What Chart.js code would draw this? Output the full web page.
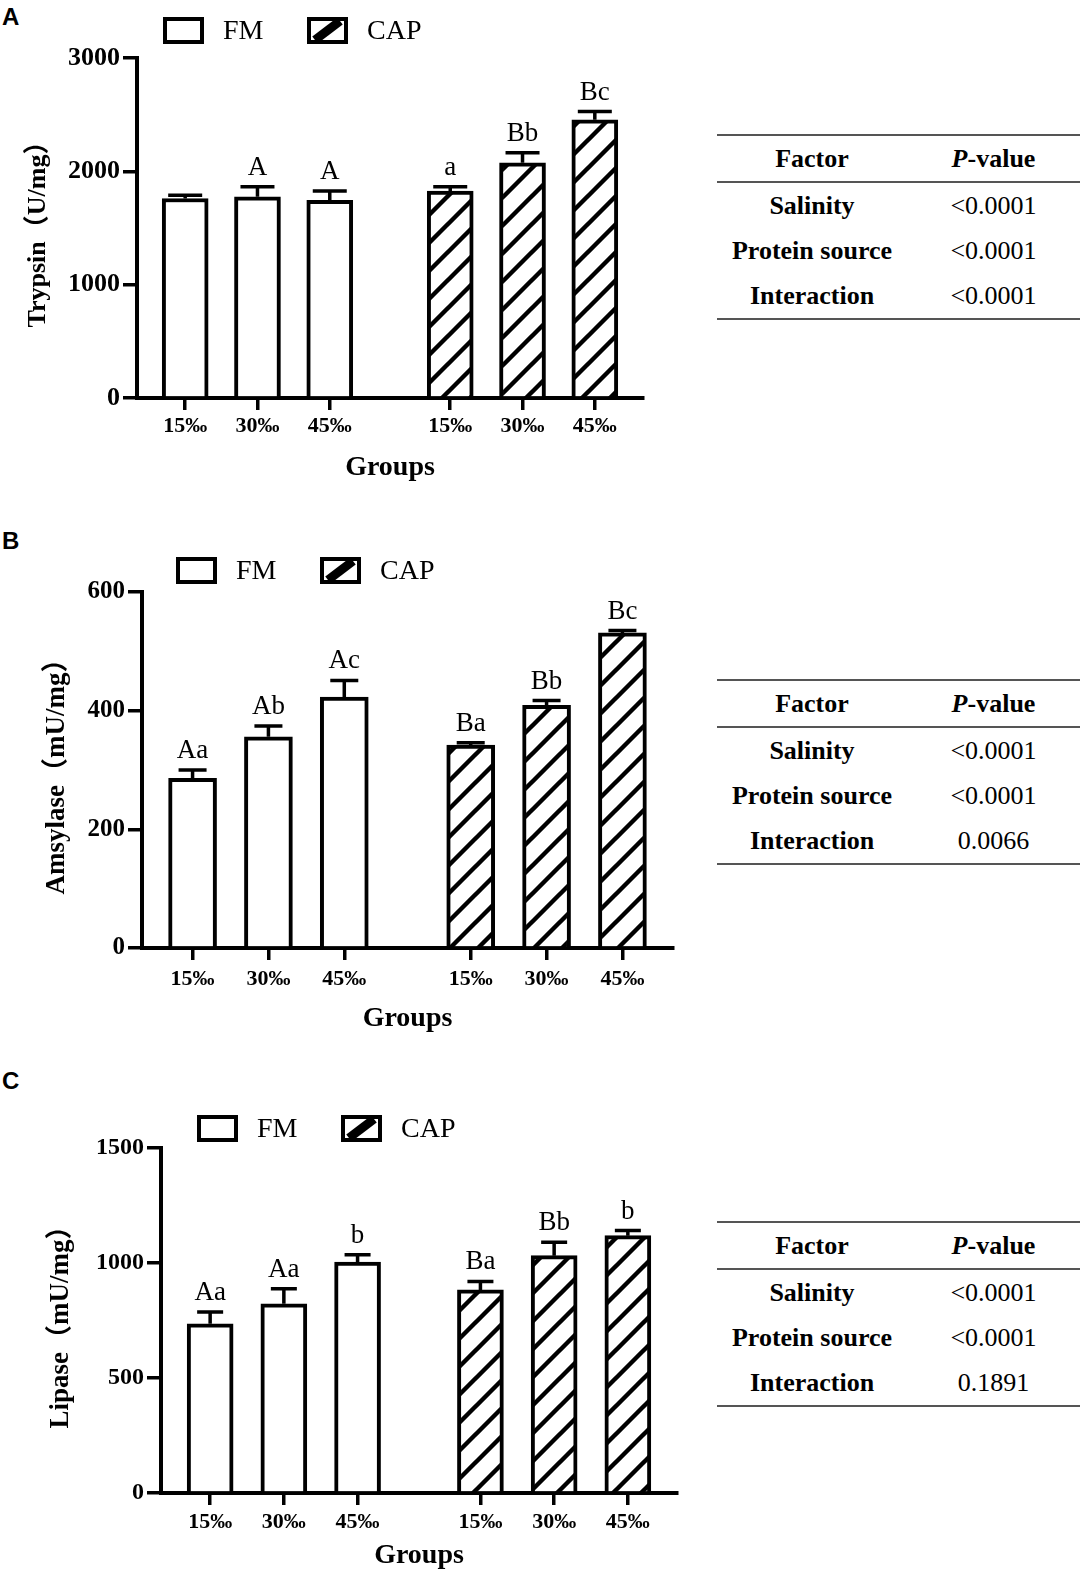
<!DOCTYPE html>
<html lang="en">
<head>
  <meta charset="UTF-8">
  <title>Digestive enzyme activities</title>
  <script src="https://cdn.jsdelivr.net/npm/chart.js"></script>
  <style>
    body {
      margin: 0;
      width: 1089px;
      height: 1582px;
      position: relative;
      background: #fff;
      overflow: hidden;
    }
    canvas {
      position: absolute;
      left: 0;
    }
    .tag {
      position: absolute;
      left: 2px;
      font: bold 24px 'Liberation Sans', Arial, sans-serif;
      line-height: 24px;
      color: #000;
    }
    table.anova {
      position: absolute;
      left: 717px;
      width: 363px;
      border-collapse: collapse;
      font-family: 'Liberation Serif', 'Times New Roman', serif;
      font-size: 26px;
      color: #000;
    }
    table.anova th, table.anova td {
      height: 45px;
      padding: 0;
      text-align: center;
    }
    table.anova th {
      border-top: 2px solid #555;
      border-bottom: 2px solid #555;
    }
    table.anova tr:last-child td {
      border-bottom: 2px solid #555;
    }
    table.anova td.f {
      font-weight: bold;
      width: 190px;
    }
  </style>
</head>
<body>
  <div class="tag" style="top:5px">A</div>
  <canvas id="chartA" width="700" height="485" style="top:0px"></canvas>
  <table class="anova" id="tableA" style="top:134px"></table>

  <div class="tag" style="top:529px">B</div>
  <canvas id="chartB" width="700" height="506" style="top:530px"></canvas>
  <table class="anova" id="tableB" style="top:679px"></table>

  <div class="tag" style="top:1069px">C</div>
  <canvas id="chartC" width="700" height="503" style="top:1070px"></canvas>
  <table class="anova" id="tableC" style="top:1221px"></table>

  <script>
    // Groups and salinity levels
    const feeds = ['FM', 'CAP'];
    const salinity = ['15‰', '30‰', '45‰'];

    // Trypsin (U/mg)
    const trypsinFM = [1760, 1775, 1745];
    const trypsinFMErr = [30, 88, 82];
    const trypsinFMLetters = ['', 'A', 'A'];
    const trypsinCAP = [1825, 2075, 2455];
    const trypsinCAPErr = [40, 88, 72];
    const trypsinCAPLetters = ['a', 'Bb', 'Bc'];
    const trypsinTicks = [0, 3000, 1000];

    // Amylase (mU/mg)
    const amylaseFM = [286, 356, 423];
    const amylaseFMErr = [14, 18, 28];
    const amylaseFMLetters = ['Aa', 'Ab', 'Ac'];
    const amylaseCAP = [342, 409, 531];
    const amylaseCAPErr = [4, 8, 4];
    const amylaseCAPLetters = ['Ba', 'Bb', 'Bc'];
    const amylaseTicks = [0, 600, 200];

    // Lipase (mU/mg)
    const lipaseFM = [736, 823, 1004];
    const lipaseFMErr = [51, 65, 32];
    const lipaseFMLetters = ['Aa', 'Aa', 'b'];
    const lipaseCAP = [883, 1032, 1119];
    const lipaseCAPErr = [37, 58, 22];
    const lipaseCAPLetters = ['Ba', 'Bb', 'b'];
    const lipaseTicks = [0, 1500, 500];

    // Two-way ANOVA tables
    const factors = ['Salinity', 'Protein source', 'Interaction'];
    const trypsinP = ['<0.0001', '<0.0001', '<0.0001'];
    const amylaseP = ['<0.0001', '<0.0001', '0.0066'];
    const lipaseP = ['<0.0001', '<0.0001', '0.1891'];

    const SERIF = "'Liberation Serif', 'Times New Roman', 'Noto Sans CJK SC', serif";

    // bar slot on the x axis: three bars per group, a wider gap between groups
    const slot = (g, i) => (2 + 3 * i + 11 * g) / 3;
    const slots = [0, 1].flatMap(g => salinity.map((s, i) => slot(g, i)));

    function hatch() {
      const s = 28;
      const c = document.createElement('canvas');
      c.width = s; c.height = s;
      const p = c.getContext('2d');
      p.fillStyle = '#fff';
      p.fillRect(0, 0, s, s);
      p.strokeStyle = '#000';
      p.lineWidth = 4.4;
      p.beginPath();
      [-s, 0, s].forEach(o => {
        p.moveTo(o - 2, s + 2);
        p.lineTo(o + s + 2, -2);
      });
      p.stroke();
      return p.createPattern(c, 'repeat');
    }

    const errorBars = {
      id: 'errorBars',
      afterDatasetsDraw(chart, args, opts) {
        const ctx = chart.ctx;
        const yScale = chart.scales.y;
        ctx.save();
        ctx.strokeStyle = '#000';
        ctx.fillStyle = '#000';
        ctx.lineWidth = 3.5;
        ctx.font = '27px ' + SERIF;
        ctx.textAlign = 'center';
        ctx.textBaseline = 'alphabetic';
        chart.data.datasets.forEach((ds, di) => {
          chart.getDatasetMeta(di).data.forEach((bar, i) => {
            const top = yScale.getPixelForValue(ds.data[i].y + ds.errors[i]);
            ctx.beginPath();
            ctx.moveTo(bar.x, bar.y);
            ctx.lineTo(bar.x, top);
            ctx.moveTo(bar.x - opts.capWidth / 2, top);
            ctx.lineTo(bar.x + opts.capWidth / 2, top);
            ctx.stroke();
            if (ds.letters[i]) ctx.fillText(ds.letters[i], bar.x, top - 12);
          });
        });
        ctx.restore();
      }
    };

    const boxLegend = {
      id: 'boxLegend',
      afterDraw(chart, args, opts) {
        const ctx = chart.ctx;
        const w = 41, h = 27, b = 4;
        ctx.save();
        chart.data.datasets.forEach((ds, i) => {
          const x = opts.x + i * 144;
          const y = opts.y;
          ctx.fillStyle = '#fff';
          ctx.fillRect(x, y, w, h);
          if (ds.hatched) {
            ctx.strokeStyle = '#000';
            ctx.lineWidth = 9;
            ctx.beginPath();
            ctx.moveTo(x + b + 4, y + h - b);
            ctx.lineTo(x + w - b - 4, y + b);
            ctx.stroke();
          }
          ctx.lineWidth = b;
          ctx.strokeStyle = '#000';
          ctx.strokeRect(x + b / 2, y + b / 2, w - b, h - b);
          ctx.fillStyle = '#000';
          ctx.font = '28px ' + SERIF;
          ctx.textAlign = 'left';
          ctx.textBaseline = 'middle';
          ctx.fillText(ds.label, x + w + 19, y + h / 2 + 1);
        });
        ctx.restore();
      }
    };

    function makeChart(id, p) {
      const pattern = hatch();
      const series = [p.fm, p.cap];
      const errs = [p.fmErr, p.capErr];
      const letters = [p.fmLetters, p.capLetters];
      return new Chart(document.getElementById(id), {
        type: 'bar',
        data: {
          datasets: feeds.map((f, g) => ({
            label: f,
            data: series[g].map((v, i) => ({ x: slot(g, i), y: v })),
            errors: errs[g],
            letters: letters[g],
            hatched: g === 1,
            backgroundColor: g === 1 ? pattern : '#fff',
            borderColor: '#000',
            borderWidth: 4,
            barThickness: p.bar
          }))
        },
        options: {
          responsive: false,
          animation: false,
          grouped: false,
          layout: { padding: { top: p.padTop, right: p.padRight, left: 0, bottom: 0 } },
          plugins: {
            legend: { display: false },
            tooltip: { enabled: false },
            errorBars: { capWidth: p.capWidth },
            boxLegend: { x: p.legendX, y: p.legendY }
          },
          scales: {
            x: {
              type: 'linear',
              min: 0,
              max: 7,
              offset: false,
              afterBuildTicks: s => { s.ticks = slots.map(v => ({ value: v })); },
              afterFit: s => { s.height = p.xHeight; },
              border: { display: true, color: '#000', width: 4 },
              grid: { offset: false, drawOnChartArea: false, drawTicks: true, tickLength: 12, lineWidth: 3.5, color: '#000' },
              ticks: {
                autoSkip: false,
                maxRotation: 0,
                padding: p.xPad,
                color: '#000',
                font: { family: SERIF, size: 22, weight: 'bold' },
                callback: (v, i) => salinity[i % salinity.length]
              },
              title: {
                display: true,
                text: 'Groups',
                color: '#000',
                padding: { top: 0, bottom: 0 },
                font: { family: SERIF, size: 28, weight: 'bold' }
              }
            },
            y: {
              min: p.ticks[0],
              max: p.ticks[1],
              afterFit: s => { s.width = p.yWidth; },
              border: { display: true, color: '#000', width: 4 },
              grid: { drawOnChartArea: false, drawTicks: true, tickLength: 14, lineWidth: 3.5, color: '#000' },
              ticks: {
                stepSize: p.ticks[2],
                padding: 3,
                color: '#000',
                font: { family: SERIF, size: p.yFont, weight: 'bold' },
                callback: v => String(v)
              },
              title: {
                display: true,
                text: p.title,
                color: '#000',
                padding: { top: p.titlePad, bottom: 0 },
                font: { family: SERIF, size: p.titleFont, weight: 'bold' }
              }
            }
          }
        },
        plugins: [errorBars, boxLegend]
      });
    }

    function buildTable(id, pvals) {
      const t = document.getElementById(id);
      const head = t.insertRow();
      const h1 = document.createElement('th');
      h1.textContent = 'Factor';
      const h2 = document.createElement('th');
      const it = document.createElement('i');
      it.textContent = 'P';
      h2.appendChild(it);
      h2.appendChild(document.createTextNode('-value'));
      head.appendChild(h1);
      head.appendChild(h2);
      factors.forEach((f, i) => {
        const r = t.insertRow();
        const c1 = r.insertCell();
        c1.className = 'f';
        c1.textContent = f;
        r.insertCell().textContent = pvals[i];
      });
    }

    buildTable('tableA', trypsinP);
    buildTable('tableB', amylaseP);
    buildTable('tableC', lipaseP);

    makeChart('chartA', {
      fm: trypsinFM, fmErr: trypsinFMErr, fmLetters: trypsinFMLetters,
      cap: trypsinCAP, capErr: trypsinCAPErr, capLetters: trypsinCAPLetters,
      ticks: trypsinTicks, title: 'Trypsin（U/mg）',
      padTop: 58, padRight: 57, yWidth: 137, xHeight: 87, xPad: 3,
      yFont: 26, titleFont: 26, titlePad: 23, bar: 46, capWidth: 34,
      legendX: 163, legendY: 17
    });
    makeChart('chartB', {
      fm: amylaseFM, fmErr: amylaseFMErr, fmLetters: amylaseFMLetters,
      cap: amylaseCAP, capErr: amylaseCAPErr, capLetters: amylaseCAPLetters,
      ticks: amylaseTicks, title: 'Amsylase（mU/mg）',
      padTop: 62, padRight: 27, yWidth: 142, xHeight: 88, xPad: 6,
      yFont: 25, titleFont: 27, titlePad: 41, bar: 48, capWidth: 28,
      legendX: 176, legendY: 27
    });
    makeChart('chartC', {
      fm: lipaseFM, fmErr: lipaseFMErr, fmLetters: lipaseFMLetters,
      cap: lipaseCAP, capErr: lipaseCAPErr, capLetters: lipaseCAPLetters,
      ticks: lipaseTicks, title: 'Lipase（mU/mg）',
      padTop: 78, padRight: 23, yWidth: 161, xHeight: 80, xPad: 4,
      yFont: 24, titleFont: 27, titlePad: 45, bar: 46, capWidth: 26,
      legendX: 197, legendY: 45
    });
  </script>
</body>
</html>
